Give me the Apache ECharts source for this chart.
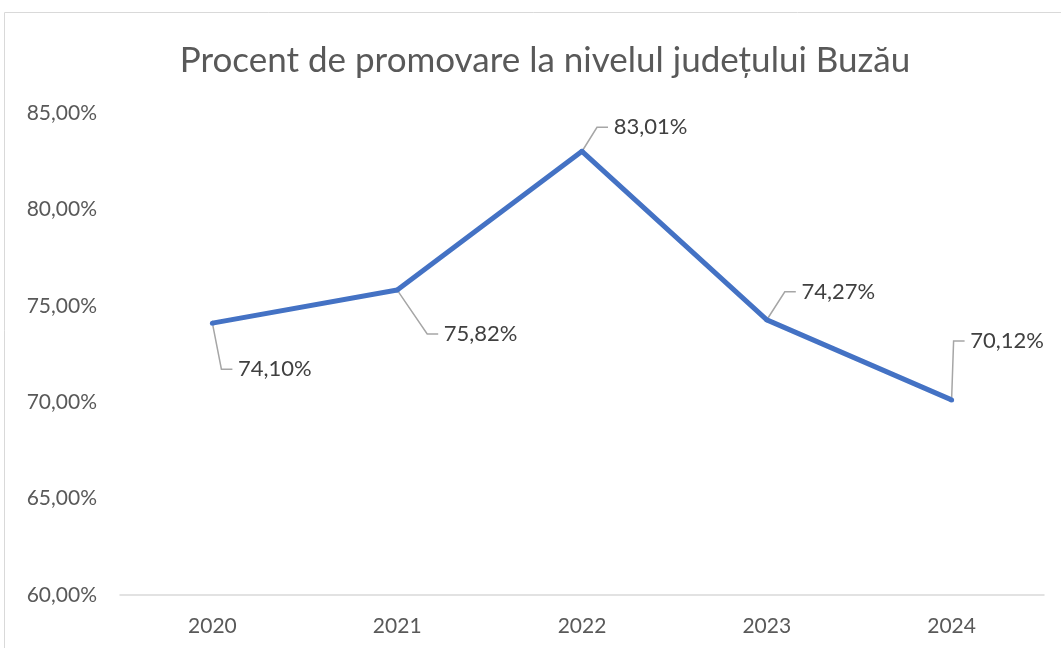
<!DOCTYPE html>
<html>
<head>
<meta charset="utf-8">
<script src="https://cdn.jsdelivr.net/npm/echarts@6/dist/echarts.min.js"></script>
<style>
  html, body { margin: 0; padding: 0; background: #fff; }
  #chart { width: 1061px; height: 648px; }
</style>
</head>
<body>
<div id="chart"></div>
<script>
// data
const years = ['2020', '2021', '2022', '2023', '2024'];
const promovare = [74.10, 75.82, 83.01, 74.27, 70.12];
// label offsets (left edge / middle of the label from the point)
const labelDx = [20, 41, 26, 29, 13];
const labelDy = [46, 44, -24, -28, -59];

const fontName = 'Lato';
const chart = echarts.init(document.getElementById('chart'));

function pct(v) {
    return v.toFixed(2).replace('.', ',') + '%';
}

const option = {
    animation: false,
    title: {
        text: 'Procent de promovare la nivelul județului Buzău',
        left: 540,
        textAlign: 'center',
        top: 38,
        textStyle: { fontFamily: fontName, fontSize: 35, fontWeight: 'normal', color: '#595959' }
    },
    graphic: [{
        type: 'rect',
        shape: { x: 4.5, y: 12.5, width: 1080, height: 700 },
        style: { fill: 'none', stroke: '#d9d9d9', lineWidth: 1 },
        silent: true
    }],
    grid: { left: 120, right: 17, top: 113, bottom: 53 },
    xAxis: {
        type: 'category',
        data: years,
        boundaryGap: true,
        axisLine: { lineStyle: { color: '#d9d9d9', width: 1.5 } },
        axisTick: { show: false },
        axisLabel: { fontFamily: fontName, fontSize: 21, color: '#595959', margin: 21 }
    },
    yAxis: {
        type: 'value',
        min: 60,
        max: 85,
        interval: 5,
        splitLine: { show: false },
        axisLine: { show: false },
        axisTick: { show: false },
        axisLabel: { fontFamily: fontName, fontSize: 21, color: '#595959', margin: 23, formatter: pct }
    },
    series: [{
        type: 'line',
        data: promovare,
        symbol: 'circle',
        symbolSize: 5,
        lineStyle: { color: '#4472C4', width: 5, join: 'round' },
        itemStyle: { color: '#4472C4' },
        label: {
            show: true,
            position: 'inside',
            fontFamily: fontName,
            fontSize: 22,
            color: '#404040',
            // leading space keeps the leader line off the text
            formatter: p => ' ' + pct(p.value)
        },
        labelLine: { show: true, length2: 11, lineStyle: { color: '#a6a6a6', width: 1.5 } },
        labelLayout: function (params) {
            const i = params.dataIndex;
            const r = params.rect;
            const cx = r.x + r.width / 2;
            const cy = r.y + r.height / 2;
            return {
                x: cx + labelDx[i],
                y: cy + labelDy[i],
                align: 'left',
                verticalAlign: 'middle'
            };
        }
    }]
};
chart.setOption(option);
</script>
</body>
</html>
